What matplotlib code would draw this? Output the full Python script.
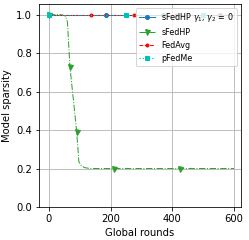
import matplotlib
matplotlib.use("Agg")
import matplotlib.pyplot as plt

# sFedHP with gamma1, gamma2 = 0
hp0_rounds = [0, 185, 370, 555, 600]
hp0_sparsity = [1.0, 1.0, 1.0, 1.0, 1.0]

# sFedHP
hp_rounds = [0, 40, 50, 55, 60, 68, 90, 97, 105, 115, 133, 212, 425, 600]
hp_sparsity = [1.0, 1.0, 0.995, 0.99, 0.96, 0.73, 0.39, 0.235, 0.215, 0.205, 0.2, 0.2, 0.2, 0.2]
hp_marks = [0, 5, 6, 11, 12]

# FedAvg
avg_rounds = [0, 137, 275, 412, 550, 600]
avg_sparsity = [1.0, 1.0, 1.0, 1.0, 1.0, 1.0]

# pFedMe
me_rounds = [0, 250, 500, 600]
me_sparsity = [1.0, 1.0, 1.0, 1.0]

fig = plt.figure(figsize=(249/72, 240/72), dpi=72)
ax = fig.add_axes([0.157, 0.1375, 0.811, 0.8455])

ax.plot(hp0_rounds, hp0_sparsity, '-', color='tab:blue', marker='o', markersize=4,
        lw=1, markevery=[0, 1, 2, 3], label=r'sFedHP $\gamma_1$, $\gamma_2$ = 0')
ax.plot(hp_rounds, hp_sparsity, '-.', color='tab:green', marker='v', markersize=5,
        lw=1, markevery=hp_marks, label='sFedHP')
ax.plot(avg_rounds, avg_sparsity, '--', color='red', marker='.', markersize=6,
        lw=1, markevery=[0, 1, 2, 3, 4], label='FedAvg')
ax.plot(me_rounds, me_sparsity, ':', color='c', marker='s', markersize=4,
        lw=1.2, markevery=[0, 1, 2], label='pFedMe')

ax.set_xlim(-32, 623)
ax.set_ylim(0, 1.055)
ax.set_xticks([0, 200, 400, 600])
ax.set_yticks([0.0, 0.2, 0.4, 0.6, 0.8, 1.0])
ax.set_xlabel('Global rounds')
ax.set_ylabel('Model sparsity')
ax.grid()
ax.legend(loc='upper right', fontsize=8)

fig.savefig('out.png', dpi=72)
